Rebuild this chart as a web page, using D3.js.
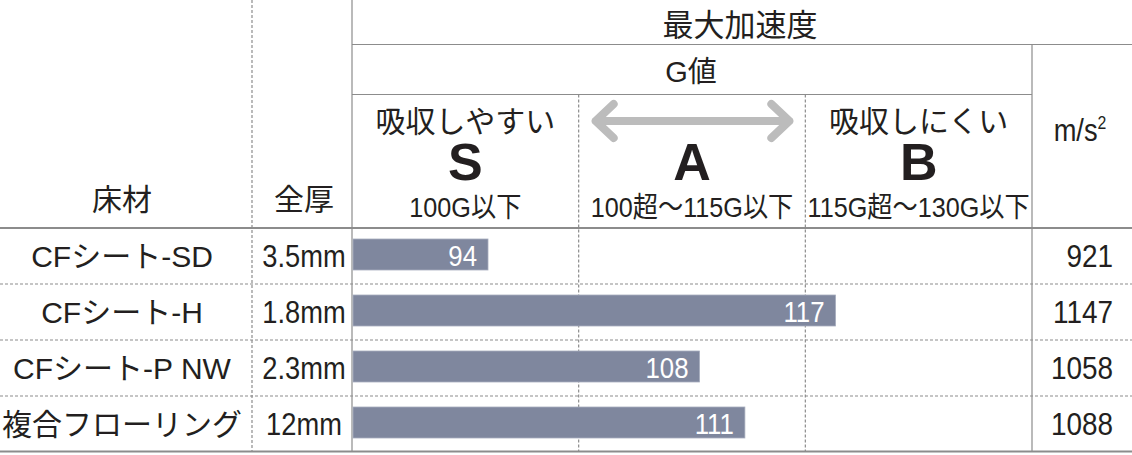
<!DOCTYPE html>
<html>
<head>
<meta charset="utf-8">
<script src="https://cdn.jsdelivr.net/npm/d3@7"></script>
<style>
  body { margin: 0; background: #fff; }
  svg { display: block; }
  .jp { font-family: "Liberation Sans", "Noto Sans CJK JP", sans-serif; fill: #231f20; }
  .nr { font-family: "Liberation Sans", "Noto Sans CJK JP", sans-serif; fill: #231f20; }
</style>
</head>
<body>
<script>
// Data
const materials = ["CFシート-SD", "CFシート-H", "CFシート-P NW", "複合フローリング"];
const thickness = ["3.5mm", "1.8mm", "2.3mm", "12mm"];
const gValues = [94, 117, 108, 111];
const accel = [921, 1147, 1058, 1088];
const grades = ["S", "A", "B"];
const gradeNotes = ["吸収しやすい", "", "吸収しにくい"];
const gradeRanges = ["100G以下", "100超～115G以下", "115G超～130G以下"];
const gradeBounds = [85, 100, 115, 130];

const W = 1132, H = 455;
const lineCol = "#8c8c8c";

const svg = d3.select("body").append("svg")
  .attr("width", W)
  .attr("height", H);

// Scales
const x = d3.scaleLinear().domain([85, 130]).range([352, 1032]);
const y = d3.scaleBand().domain(materials).range([228, 452]);

const colName = 122, colThick = 304, colAccel = 1113;

// Grid lines
const hline = (y0, x0, x1, dashed, w) => svg.append("line")
  .attr("x1", x0).attr("x2", x1).attr("y1", y0).attr("y2", y0)
  .attr("stroke", lineCol).attr("stroke-width", w || 1.2)
  .attr("stroke-dasharray", dashed ? "3,2" : null);
const vline = (x0, y0, y1, dashed) => svg.append("line")
  .attr("x1", x0).attr("x2", x0).attr("y1", y0).attr("y2", y1)
  .attr("stroke", lineCol).attr("stroke-width", 1.2)
  .attr("stroke-dasharray", dashed ? "3,2" : null);

hline(44.5, x(85), W, false);
hline(94.5, x(85), x(130), false);
hline(228, 0, W, false, 2);
materials.slice(1).forEach(m => hline(y(m), 0, W, true));
hline(451.5, 0, W, false, 2);

vline(252, 0, 451, true);
vline(x(85), 0, 451, false);
vline(x(100), 94.5, 451, true);
vline(x(115), 94.5, 451, true);
vline(x(130), 44.5, 451, false);

// condensed text: squeezed horizontally around its anchor
function narrow(parent, tx, ty, size, anchor, str, sq) {
  return parent.append("text").attr("class", "nr")
    .attr("transform", `translate(${tx},${ty}) scale(${sq || 0.88},1)`)
    .attr("text-anchor", anchor)
    .style("font-size", size + "px")
    .text(str);
}

// Header texts
svg.append("text").attr("class", "jp")
  .attr("x", 740).attr("y", 36).attr("text-anchor", "middle")
  .style("font-size", "31px").text("最大加速度");
svg.append("text").attr("class", "jp")
  .attr("x", 691).attr("y", 82).attr("text-anchor", "middle")
  .style("font-size", "29px").text("G値");
svg.append("text").attr("class", "jp")
  .attr("x", colName).attr("y", 210).attr("text-anchor", "middle")
  .style("font-size", "30px").text("床材");
svg.append("text").attr("class", "jp")
  .attr("x", colThick).attr("y", 210).attr("text-anchor", "middle")
  .style("font-size", "30px").text("全厚");

const unit = narrow(svg, 1080, 141, 31, "middle", null);
unit.append("tspan").text("m/s");
unit.append("tspan").attr("dy", -12).style("font-size", "18px").text("2");

// Grade columns
grades.forEach((g, i) => {
  const cx = (x(gradeBounds[i]) + x(gradeBounds[i + 1])) / 2;
  if (gradeNotes[i]) {
    svg.append("text").attr("class", "jp")
      .attr("x", cx).attr("y", 132).attr("text-anchor", "middle")
      .style("font-size", "30px").text(gradeNotes[i]);
  }
  svg.append("text").attr("class", "jp")
    .attr("x", cx).attr("y", 180).attr("text-anchor", "middle")
    .style("font-size", "52px").style("font-weight", "bold").text(g);
  narrow(svg, cx, 217, 28, "middle", gradeRanges[i], 0.9);
});

// Double arrow in the A column
const ax0 = x(100) + 17, ax1 = x(115) - 16, ay = 121, ah = 18;
svg.append("path")
  .attr("d", `M${ax0},${ay}H${ax1}M${ax0 + ah},${ay - ah + 1}L${ax0},${ay}L${ax0 + ah},${ay + ah - 1}` +
    `M${ax1 - ah},${ay - ah + 1}L${ax1},${ay}L${ax1 - ah},${ay + ah - 1}`)
  .attr("fill", "none")
  .attr("stroke", "#bcbcbc")
  .attr("stroke-width", 8)
  .attr("stroke-linecap", "round")
  .attr("stroke-linejoin", "round");

// Rows
materials.forEach((m, i) => {
  const cy = y(m) + y.bandwidth() / 2;
  const g = svg.append("g").attr("class", "row");

  g.append("text").attr("class", "jp")
    .attr("x", colName).attr("y", cy + 11)
    .attr("text-anchor", "middle")
    .style("font-size", "30px")
    .text(m);

  narrow(g, colThick, cy + 11, 31, "middle", thickness[i]);

  g.append("rect")
    .attr("x", x(85) + 1)
    .attr("y", y(m) + 11)
    .attr("width", x(gValues[i]) - x(85) - 1)
    .attr("height", 31)
    .attr("fill", "#7f879e")
    .attr("stroke", "#a7adbd")
    .attr("stroke-width", 0.8);

  narrow(g, x(gValues[i]) - 11, y(m) + 11 + 15.5 + 11, 30, "end", gValues[i], 0.86)
    .style("fill", "#fff");

  narrow(g, colAccel, cy + 11, 31, "end", accel[i], 0.9);
});
</script>
</body>
</html>
